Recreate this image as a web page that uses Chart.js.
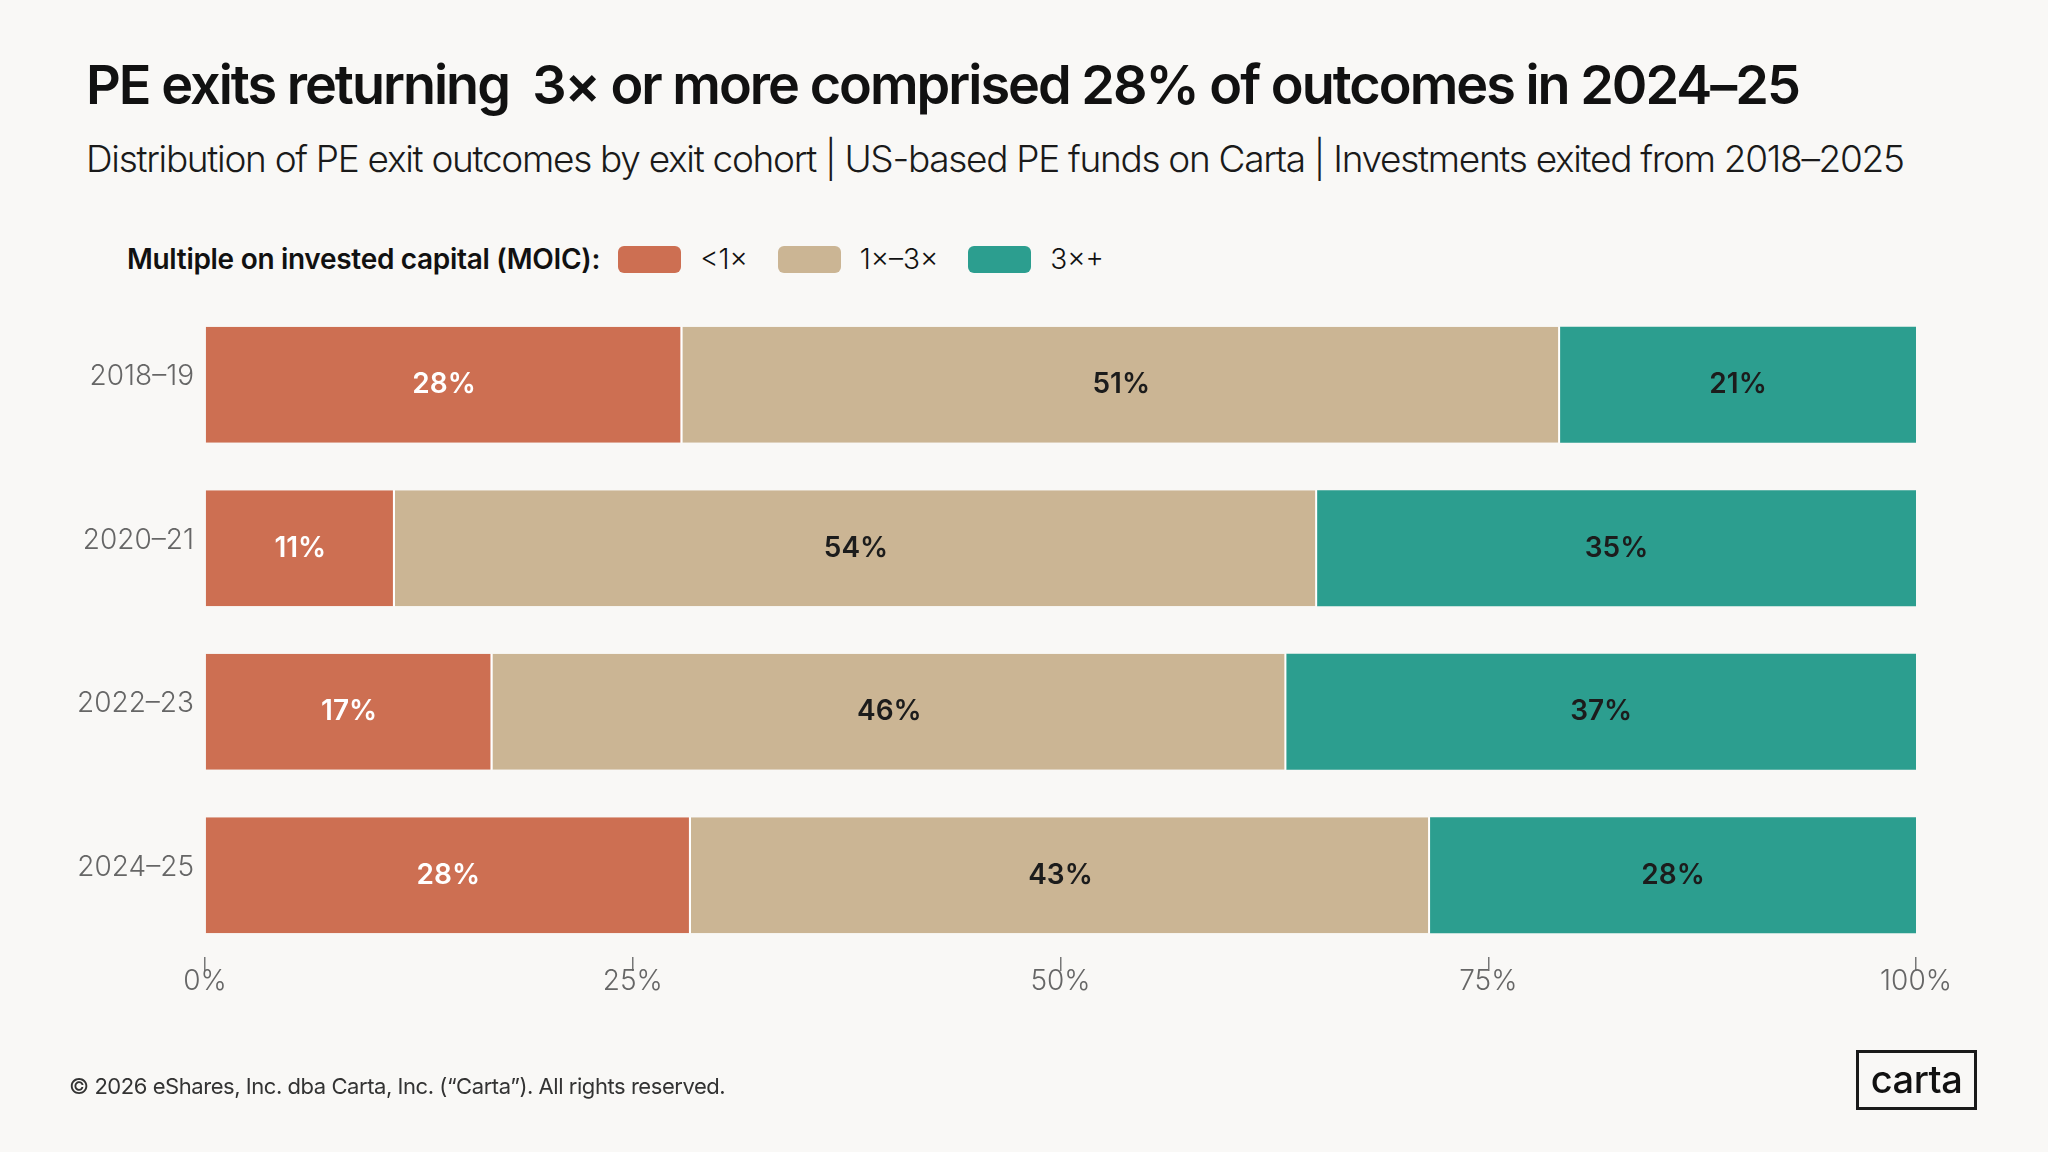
<!DOCTYPE html>
<html>
<head>
<meta charset="utf-8">
<script src="https://cdn.jsdelivr.net/npm/chart.js@4/dist/chart.umd.min.js"></script>
<style>
  html, body { margin: 0; padding: 0; }
  body { width: 2048px; height: 1152px; background: #f9f8f6; position: relative; overflow: hidden; font-family: "Inter", "DejaVu Sans", sans-serif; color: #111; }
  #chart { position: absolute; left: 0; top: 0; }
  .title { position: absolute; left: 86px; top: 58px; font-size: 54px; font-weight: 600; line-height: 1; letter-spacing: -2px; white-space: pre; }
  .subtitle { position: absolute; left: 86px; top: 140px; font-size: 37px; font-weight: 300; line-height: 1; letter-spacing: -1.3px; white-space: nowrap; color: #1a1a1a; }
  #legend { position: absolute; left: 127px; top: 242px; height: 34px; display: flex; align-items: center; white-space: nowrap; }
  #legend .lead { font-size: 28px; font-weight: 600; letter-spacing: -0.3px; margin-right: 18px; }
  #legend .sw { width: 63px; height: 27px; border-radius: 6px; margin-right: 19px; }
  #legend .lab { font-size: 28px; font-weight: 300; margin-right: 30px; }
  .footer { position: absolute; left: 69px; top: 1073px; font-size: 22px; color: #333; letter-spacing: -0.45px; white-space: nowrap; }
  .logo { position: absolute; left: 1856px; top: 1050px; width: 115px; height: 54px; border: 3px solid #1a1a1a; font-size: 38px; font-weight: 500; line-height: 52px; text-align: center; letter-spacing: -0.5px; color: #111; }
</style>
</head>
<body>
<div class="title">PE exits returning  3× or more comprised 28% of outcomes in 2024–25</div>
<div class="subtitle">Distribution of PE exit outcomes by exit cohort | US-based PE funds on Carta | Investments exited from 2018–2025</div>
<div id="legend"><span class="lead">Multiple on invested capital (MOIC):</span></div>
<canvas id="chart" width="2048" height="1152"></canvas>
<div class="footer">© 2026 eShares, Inc. dba Carta, Inc. (“Carta”). All rights reserved.</div>
<div class="logo">carta</div>
<script>
const cohorts = ['2018–19', '2020–21', '2022–23', '2024–25'];
const below1x = [27.9, 11.1, 16.8, 28.4];
const from1to3x = [51.3, 53.9, 46.4, 43.2];
const above3x = [20.8, 35.0, 36.8, 28.4];
const seriesNames = ['<1×', '1×–3×', '3×+'];
const seriesColors = ['#cd6f52', '#cbb594', '#2c9e8f'];
const xTicks = [0, 25, 50, 75, 100];

const labelFont = '"Inter", "DejaVu Sans", sans-serif';

const barLabels = {
  id: 'barLabels',
  afterDatasetsDraw(chart) {
    const ctx = chart.ctx;
    ctx.save();
    ctx.font = '600 28px ' + labelFont;
    ctx.textAlign = 'center';
    ctx.textBaseline = 'middle';
    chart.data.datasets.forEach((ds, i) => {
      const meta = chart.getDatasetMeta(i);
      meta.data.forEach((bar, j) => {
        const p = bar.getProps(['x', 'y', 'base'], true);
        ctx.fillStyle = i === 0 ? '#ffffff' : '#1c1c1c';
        ctx.fillText(Math.round(ds.data[j]) + '%', (p.x + p.base) / 2, p.y);
      });
    });
    ctx.restore();
  }
};

const seriesData = [below1x, from1to3x, above3x];

const myChart = new Chart(document.getElementById('chart').getContext('2d'), {
  type: 'bar',
  data: {
    labels: cohorts,
    datasets: seriesData.map((d, i) => ({
      label: seriesNames[i],
      data: d,
      backgroundColor: seriesColors[i],
      borderColor: '#ffffff',
      borderWidth: i < 2 ? { top: 0, bottom: 0, left: 0, right: 2 } : 0,
      borderSkipped: false,
      barPercentage: 0.71,
      categoryPercentage: 1
    }))
  },
  options: {
    indexAxis: 'y',
    responsive: false,
    animation: false,
    layout: { padding: { left: 0, right: 132, top: 303, bottom: 0 } },
    plugins: {
      legend: { display: false },
      tooltip: { enabled: false }
    },
    scales: {
      x: {
        stacked: true,
        min: 0,
        max: 100,
        afterBuildTicks: axis => { axis.ticks = xTicks.map(v => ({ value: v })); },
        afterFit: axis => { axis.height = 195; },
        border: { display: false },
        grid: { drawOnChartArea: false, drawTicks: true, tickLength: 14, color: '#777', lineWidth: 1.5 },
        ticks: {
          padding: -6,
          color: '#666',
          font: { family: labelFont, size: 28, weight: 300 },
          callback: v => v + '%'
        }
      },
      y: {
        stacked: true,
        afterFit: axis => { axis.width = 205; },
        border: { display: false },
        grid: { display: false },
        ticks: {
          padding: 3,
          labelOffset: -8,
          color: '#666',
          font: { family: labelFont, size: 28, weight: 300 }
        }
      }
    }
  },
  plugins: [barLabels]
});

// html legend built from the datasets
const legendEl = document.getElementById('legend');
myChart.data.datasets.forEach(ds => {
  const sw = document.createElement('span');
  sw.className = 'sw';
  sw.style.background = ds.backgroundColor;
  const lab = document.createElement('span');
  lab.className = 'lab';
  lab.textContent = ds.label;
  legendEl.appendChild(sw);
  legendEl.appendChild(lab);
});
</script>
</body>
</html>
